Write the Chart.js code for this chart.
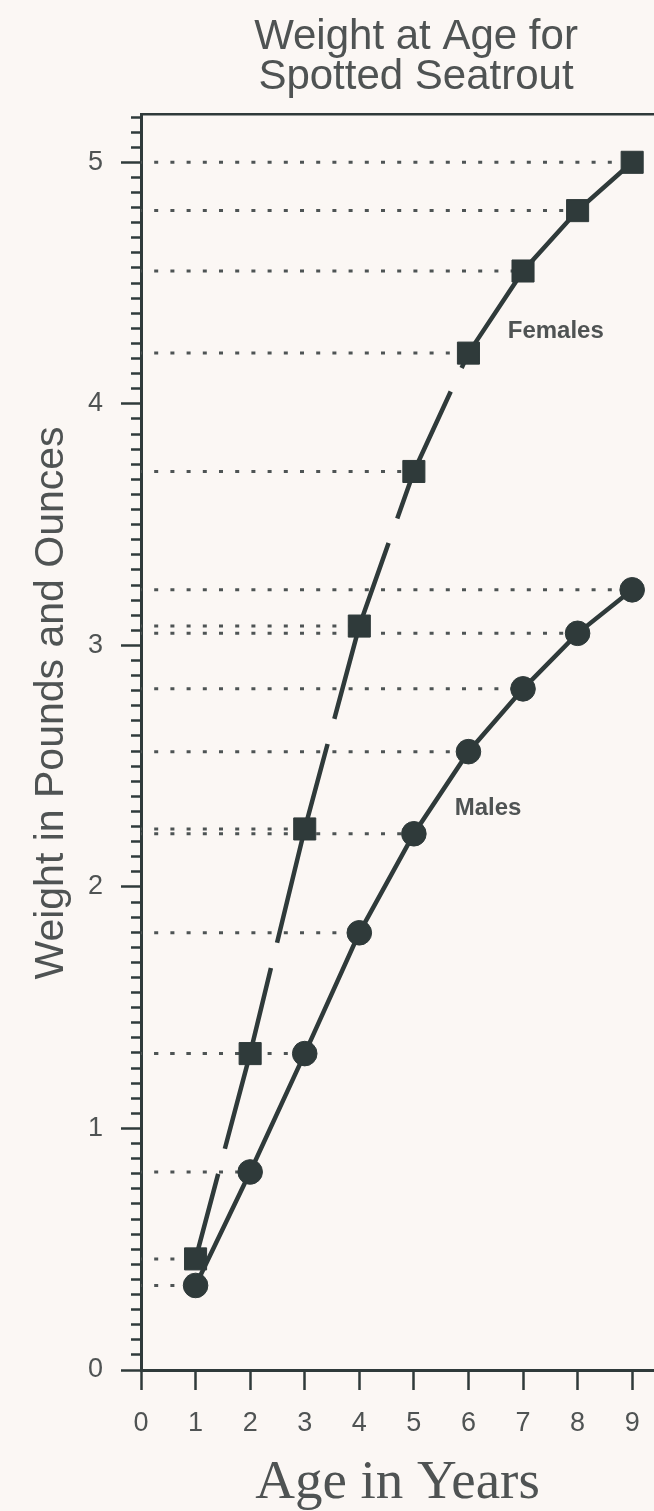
<!DOCTYPE html>
<html>
<head>
<meta charset="utf-8">
<script src="https://cdn.jsdelivr.net/npm/chart.js@4.4.1/dist/chart.umd.min.js"></script>
<style>
  html, body { margin: 0; padding: 0; background: #fbf7f4; }
  #wrap { width: 654px; height: 1511px; position: relative; }
  canvas { display: block; }
</style>
</head>
<body>
<div id="wrap"><canvas id="chart" width="654" height="1511"></canvas></div>
<script>
// ---------- data ----------
const ages = [1, 2, 3, 4, 5, 6, 7, 8, 9];
const femaleWeights = [0.46, 1.31, 2.24, 3.08, 3.72, 4.21, 4.55, 4.80, 5.00];
const maleWeights   = [0.35, 0.82, 1.31, 1.81, 2.22, 2.56, 2.82, 3.05, 3.23];
const xTickLabels = ['0', '1', '2', '3', '4', '5', '6', '7', '8', '9'];
const yTickLabels = ['0', '1', '2', '3', '4', '5'];
const seriesNames = ['Females', 'Males'];
const titleLines = ['Weight at Age for', 'Spotted Seatrout'];
const xAxisTitle = 'Age in Years';
const yAxisTitle = 'Weight in Pounds and Ounces';
const OUNCES_PER_POUND = 16;

// ---------- styles ----------
const INK = '#2f3a3a';
const DOT = '#4e5454';
const TEXT = '#4f5353';
const BG = '#fbf7f4';
const SANS = '"Liberation Sans", Arial, Helvetica, sans-serif';
const SERIF = '"Liberation Serif", "Times New Roman", serif';

function toPoints(xs, ys) { return xs.map((x, i) => ({ x: x, y: ys[i] })); }

// dotted reference lines from the axis to every marker
const guideSets = [];
[femaleWeights, maleWeights].forEach(arr => {
  arr.forEach((v, i) => {
    guideSets.push({
      type: 'line',
      data: [{ x: 0, y: v }, { x: ages[i], y: v }],
      borderColor: DOT,
      borderWidth: 3,
      borderDash: [4, 12.2],
      borderDashOffset: 3,
      borderCapStyle: 'butt',
      pointRadius: 0,
      pointHoverRadius: 0,
      fill: false,
      order: 10
    });
  });
});

// the younger-age part of the female curve is broken once per segment
const femaleSet = {
  label: seriesNames[0],
  data: toPoints(ages, femaleWeights),
  borderColor: INK,
  backgroundColor: INK,
  borderWidth: 4.5,
  pointStyle: 'rect',
  pointRadius: 15.6,
  pointBorderWidth: 1,
  pointBackgroundColor: INK,
  pointBorderColor: INK,
  tension: 0,
  order: 1,
  segment: {
    borderDash: ctx => (ctx.p0.parsed.x < 6 ? [88, 26, 400 + ctx.p0DataIndex] : undefined)
  }
};

const maleSet = {
  label: seriesNames[1],
  data: toPoints(ages, maleWeights),
  borderColor: INK,
  backgroundColor: INK,
  borderWidth: 4.5,
  pointStyle: 'circle',
  pointRadius: 12.3,
  pointBorderWidth: 1,
  pointBackgroundColor: INK,
  pointBorderColor: INK,
  tension: 0,
  order: 0
};

const bgPlugin = {
  id: 'bg',
  beforeDraw(chart) {
    const c = chart.ctx;
    c.save();
    c.fillStyle = BG;
    c.fillRect(0, 0, chart.width, chart.height);
    c.restore();
  }
};

const textPlugin = {
  id: 'texts',
  afterDatasetsDraw(chart, args, opts) {
    const c = chart.ctx;
    const xs = chart.scales.x, ys = chart.scales.y;
    c.save();
    c.fillStyle = TEXT;
    c.textAlign = 'center';
    c.textBaseline = 'middle';
    // series labels
    c.font = opts.labelFont;
    opts.labels.forEach(l => {
      c.fillText(l.text, xs.getPixelForValue(l.x), ys.getPixelForValue(l.y));
    });
    // chart title
    c.font = opts.titleFont;
    opts.titleLines.forEach((t, i) => {
      c.fillText(t, opts.titleX, opts.titleY + i * opts.titleStep);
    });
    // vertical axis title
    c.font = opts.yTitleFont;
    c.translate(opts.yTitleX, opts.yTitleY);
    c.rotate(-Math.PI / 2);
    c.fillText(opts.yTitle, 0, 0);
    c.restore();
  }
};

const isWhole = v => Math.abs(v - Math.round(v)) < 1e-6;

new Chart(document.getElementById('chart'), {
  type: 'line',
  data: { datasets: guideSets.concat([femaleSet, maleSet]) },
  options: {
    responsive: false,
    animation: false,
    devicePixelRatio: 1,
    layout: { autoPadding: false, padding: { top: 114, left: 0, right: 0, bottom: 0 } },
    plugins: {
      legend: { display: false },
      tooltip: { enabled: false },
      title: { display: false },
      texts: {
        labels: [
          { text: seriesNames[0], x: 7.6, y: 4.30 },
          { text: seriesNames[1], x: 6.36, y: 2.325 }
        ],
        labelFont: 'bold 24px ' + SANS,
        titleLines: titleLines,
        titleFont: '42px ' + SANS,
        titleX: 416,
        titleY: 37,
        titleStep: 40,
        yTitle: yAxisTitle,
        yTitleFont: '41px ' + SANS,
        yTitleX: 52,
        yTitleY: 703
      }
    },
    scales: {
      x: {
        type: 'linear',
        position: 'bottom',
        min: 0,
        max: 9.4,
        afterBuildTicks: s => { s.ticks = xTickLabels.map((_, i) => ({ value: i })); },
        afterFit: s => { s.height = 141; s.paddingLeft = 0; s.paddingRight = 0; },
        ticks: {
          autoSkip: false,
          maxRotation: 0,
          padding: 17,
          color: TEXT,
          font: { family: SANS, size: 27 },
          callback: (v, i) => xTickLabels[i]
        },
        grid: {
          drawOnChartArea: false,
          drawTicks: true,
          tickLength: 20,
          tickWidth: 2.5,
          tickColor: INK
        },
        border: { display: true, color: INK, width: 3 },
        title: {
          display: true,
          text: xAxisTitle,
          color: TEXT,
          font: { family: SERIF, size: 55, lineHeight: 1 },
          padding: { top: 0, bottom: 0 }
        }
      },
      xTop: {
        type: 'linear',
        position: 'top',
        min: 0,
        max: 9.4,
        afterFit: s => { s.height = 0; s.paddingLeft = 0; s.paddingRight = 0; },
        ticks: { display: false },
        grid: { display: false, drawTicks: false },
        border: { display: true, color: INK, width: 2.5 }
      },
      y: {
        type: 'linear',
        position: 'left',
        min: 0,
        max: 5.2,
        afterBuildTicks: s => {
          const n = Math.floor(s.max * OUNCES_PER_POUND + 1e-6);
          s.ticks = Array.from({ length: n + 1 }, (_, k) => ({ value: k / OUNCES_PER_POUND }));
        },
        afterFit: s => { s.width = 141; s.paddingTop = 0; s.paddingBottom = 0; },
        ticks: {
          autoSkip: false,
          padding: 18,
          color: TEXT,
          font: { family: SANS, size: 27 },
          callback: v => (isWhole(v) ? yTickLabels[Math.round(v)] : '')
        },
        grid: {
          drawOnChartArea: false,
          drawTicks: true,
          tickLength: 20,
          tickWidth: 2.5,
          tickColor: INK,
          tickBorderDash: ctx => (ctx.tick && isWhole(ctx.tick.value) ? [] : [0, 10, 10, 0])
        },
        border: { display: true, color: INK, width: 3 },
        title: { display: false }
      }
    }
  },
  plugins: [bgPlugin, textPlugin]
});
</script>
</body>
</html>
